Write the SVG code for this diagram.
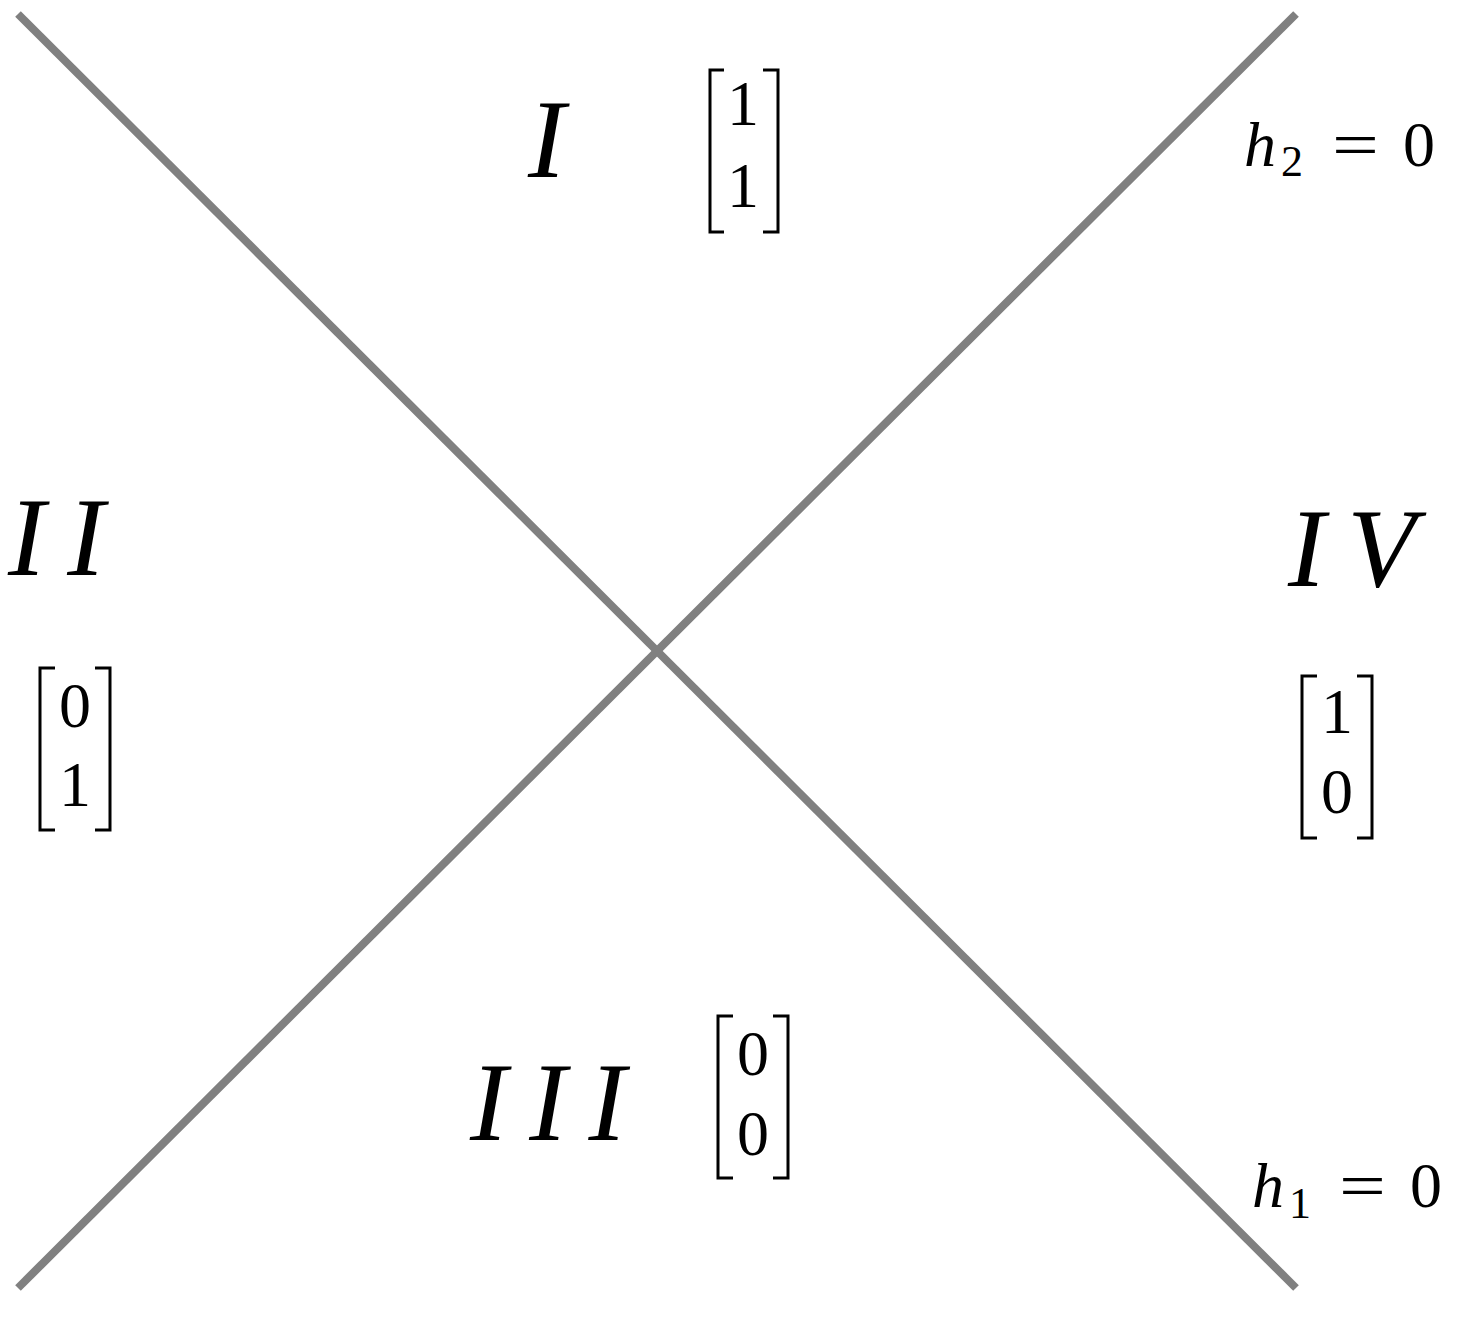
<svg xmlns="http://www.w3.org/2000/svg" width="1464" height="1328" viewBox="0 0 1464 1328">
<style>
.ln{stroke:#808080;stroke-width:8;stroke-linecap:butt;fill:none}
.rn{font-family:"Liberation Serif",serif;font-style:italic;font-size:112px;fill:#000;letter-spacing:22px}
.dg{font-family:"Liberation Serif",serif;font-size:64px;fill:#000;text-anchor:middle}
.br{stroke:#000;stroke-width:3;fill:none}
.eq{font-family:"Liberation Serif",serif;font-size:64px;fill:#000}
.sub{font-family:"Liberation Serif",serif;font-size:44px;fill:#000}
.it{font-style:italic}
</style>
<rect width="1464" height="1328" fill="#fff"/>
<g id="connectors">
<line class="ln" x1="18" y1="14" x2="1296" y2="1288"/>
<line class="ln" x1="1296" y1="14" x2="18" y2="1288"/>
</g>
<g id="region-I">
<text class="rn" x="528" y="177">I</text>
</g>
<g id="matrix-I">
<path class="br" d="M724,70 H710 V232 H724 M763,70 H778 V232 H763"/>
<text class="dg" x="743" y="125">1</text>
<text class="dg" x="743" y="207">1</text>
</g>
<g id="region-II">
<text class="rn" x="8" y="575">II</text>
</g>
<g id="matrix-II">
<path class="br" d="M55,668 H40 V830 H55 M95,668 H110 V830 H95"/>
<text class="dg" x="75" y="727">0</text>
<text class="dg" x="75" y="806">1</text>
</g>
<g id="region-IV">
<text class="rn" x="1288" y="586" letter-spacing="18">IV</text>
</g>
<g id="matrix-IV">
<path class="br" d="M1317,676 H1302 V838 H1317 M1357,676 H1372 V838 H1357"/>
<text class="dg" x="1337" y="733">1</text>
<text class="dg" x="1337" y="813">0</text>
</g>
<g id="region-III">
<text class="rn" x="470" y="1140" letter-spacing="21">III</text>
</g>
<g id="matrix-III">
<path class="br" d="M733,1016 H718 V1178 H733 M773,1016 H788 V1178 H773"/>
<text class="dg" x="753" y="1075">0</text>
<text class="dg" x="753" y="1155">0</text>
</g>
<g id="label-h2">
<text class="eq it" x="1244" y="166">h</text>
<text class="sub" x="1281" y="176">2</text>
<text class="eq" transform="translate(1332,166) scale(1.3,1)">=</text>
<text class="eq" x="1403" y="166">0</text>
</g>
<g id="label-h1">
<text class="eq it" x="1252" y="1207">h</text>
<text class="sub" x="1289" y="1218">1</text>
<text class="eq" transform="translate(1339,1207) scale(1.3,1)">=</text>
<text class="eq" x="1410" y="1207">0</text>
</g>
</svg>
